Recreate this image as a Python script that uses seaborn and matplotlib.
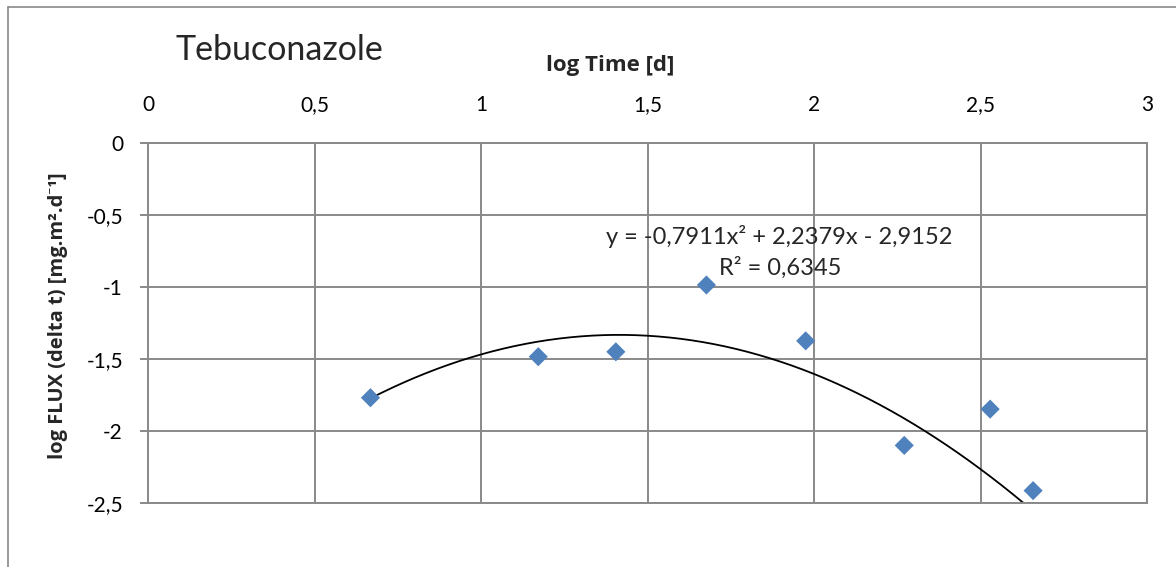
import numpy as np
import pandas as pd
import matplotlib
matplotlib.use("Agg")
import matplotlib.pyplot as plt
import seaborn as sns
from matplotlib.lines import Line2D
from matplotlib.ticker import FuncFormatter, MultipleLocator

# ---- data ----
log_time = [0.668, 1.172, 1.405, 1.677, 1.975, 2.271, 2.529, 2.658]
log_flux = [-1.769, -1.484, -1.450, -0.986, -1.374, -2.100, -1.848, -2.414]
trend_coef = [-0.7911, 2.2379, -2.9152]
eq_text = "y = -0,7911x² + 2,2379x - 2,9152"
r2_text = "R² = 0,6345"
title = "Tebuconazole"
xlabel = "log Time [d]"
ylabel = "log FLUX (delta t) [mg.m².d⁻¹]"

sns.set_theme(style="white")
plt.rcParams['font.family'] = ['Lato', 'DejaVu Sans']
BOLD_FAM = ['Open Sans', 'Noto Sans', 'DejaVu Sans']

GRID = '#898989'
fig = plt.figure(figsize=(11.76, 5.67), dpi=100)
ax = fig.add_axes([148/1176, 1-503/567, 999/1176, 360/567])

df = pd.DataFrame({"x": log_time, "y": log_flux})
sns.scatterplot(data=df, x="x", y="y", ax=ax, marker="D", s=95,
                color="#4F81BD", edgecolor="none", zorder=3)

xs = np.linspace(min(log_time), max(log_time), 300)
ys = np.polyval(trend_coef, xs)
sns.lineplot(x=xs, y=ys, ax=ax, color="black", linewidth=1.3, zorder=2, sort=False)

ax.set_xlim(0, 3)
ax.set_ylim(-2.5, 0)
ax.xaxis.set_major_locator(MultipleLocator(0.5))
ax.yaxis.set_major_locator(MultipleLocator(0.5))
fmt = FuncFormatter(lambda v, p: ("%g" % v).replace(".", ","))
ax.xaxis.set_major_formatter(fmt)
ax.yaxis.set_major_formatter(fmt)
ax.xaxis.tick_top()
ax.xaxis.set_label_position("top")
ax.grid(True, color=GRID, linewidth=1.4)
for s in ax.spines.values():
    s.set_color(GRID)
    s.set_linewidth(1.4)
ax.tick_params(axis='x', length=0, pad=20, labelsize=15, colors='black')
ax.tick_params(axis='y', left=True, length=6, width=1.4, color=GRID, pad=12, labelsize=15, labelcolor='black')

ax.set_xlabel(xlabel, fontsize=16, fontweight='bold', family=BOLD_FAM)
ax.xaxis.set_label_coords((610-148)/999, (503-65)/360)
ax.xaxis.label.set_va('center')
ax.set_ylabel(ylabel, fontsize=14.5, fontweight='bold', family=BOLD_FAM)
ax.yaxis.set_label_coords((58-148)/999, 0.521)
ax.yaxis.label.set_va('center')

ax.text(1.896, -0.646, eq_text, ha='center', va='center', fontsize=17)
ax.text(1.899, -0.868, r2_text, ha='center', va='center', fontsize=17)

fig.text(175/1176, 1-50/567, title, ha='left', va='center', fontsize=24.5)

# outer chart border (left and top visible)
fig.add_artist(Line2D([7.5/1176, 7.5/1176], [0, 1-6.5/567], transform=fig.transFigure, color=GRID, lw=1.2))
fig.add_artist(Line2D([7.5/1176, 1], [1-6.5/567, 1-6.5/567], transform=fig.transFigure, color=GRID, lw=1.2))

fig.savefig("out.png", dpi=100, facecolor='white')
